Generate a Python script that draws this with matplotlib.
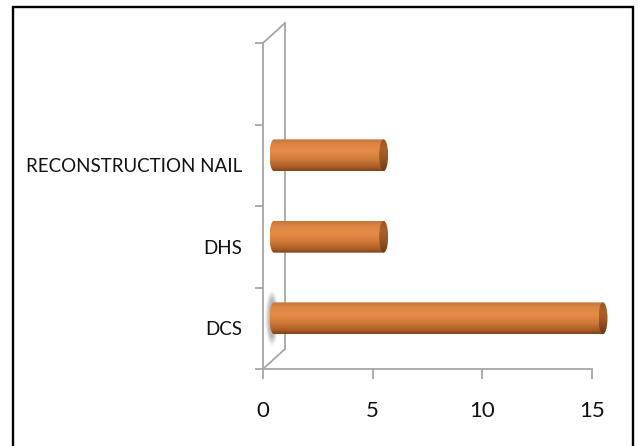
import numpy as np
import matplotlib
matplotlib.use("Agg")
import matplotlib.pyplot as plt
import matplotlib.transforms as mtransforms
from matplotlib.path import Path
from matplotlib.patches import PathPatch, Ellipse, Rectangle
from matplotlib.colors import LinearSegmentedColormap

# ---- data ----
categories = ["DCS", "DHS", "RECONSTRUCTION NAIL"]
values = [15, 5, 5]
x_ticks = [0, 5, 10, 15]
n_slots = 4  # value axis has one spare slot above the last category

label_font = ["Lato", "DejaVu Sans"]

DPI = 100
fig = plt.figure(figsize=(6.39, 4.46), dpi=DPI)
W, H = 639, 446
ax = fig.add_axes([263 / W, 77 / H, 329 / W, 326 / H])
ax.set_xlim(0, 15)
ax.set_ylim(-0.5, n_slots - 0.5)
ax.patch.set_alpha(0)

wall_col = "#a6a6a6"
for s in ["top", "right"]:
    ax.spines[s].set_visible(False)
for s in ["left", "bottom"]:
    ax.spines[s].set_color(wall_col)
    ax.spines[s].set_linewidth(1.3)

ax.set_xticks(x_ticks)
ax.set_xticklabels([str(t) for t in x_ticks])
ax.tick_params(axis="x", direction="out", length=7, width=1.3, color=wall_col,
               pad=16, labelsize=16)
ax.set_yticks(np.arange(-0.5, n_slots, 1.0), minor=True)
ax.set_yticks(range(len(categories)))
ax.set_yticklabels(categories)
ax.tick_params(axis="y", which="major", length=0, pad=15, labelsize=13.5)
ax.tick_params(axis="y", which="minor", direction="out", length=6, width=1.3,
               color=wall_col)
for lab in ax.get_xticklabels() + ax.get_yticklabels():
    lab.set_fontfamily(label_font)
    lab.set_color("#111111")
for lab in ax.get_yticklabels():
    lab.set_va("center_baseline")

# ---- back wall (depth lines) ----
fig.canvas.draw()
wall_dx, wall_dy = 22, 20
p_bot = ax.transData.transform((0, -0.5))
p_top = ax.transData.transform((0, n_slots - 0.5))
ident = mtransforms.IdentityTransform()
for p in (p_bot, p_top):
    ax.add_line(plt.Line2D([p[0], p[0] + wall_dx], [p[1], p[1] + wall_dy],
                           transform=ident, color=wall_col, lw=1.3,
                           clip_on=False))
ax.add_line(plt.Line2D([p_bot[0] + wall_dx] * 2,
                       [p_bot[1] + wall_dy, p_top[1] + wall_dy],
                       transform=ident, color=wall_col, lw=1.3, clip_on=False))

# ---- cylinders ----
depth = mtransforms.offset_copy(ax.transData, fig=fig, x=11, y=10, units="dots")
px_per_unit = (ax.transData.transform((1, 0)) - ax.transData.transform((0, 0)))[0]
cap_a = 4.5 / px_per_unit  # half-width of the elliptical ends
bar_h = 0.39

body_cmap = LinearSegmentedColormap.from_list(
    "body",
    [(0.0, "#7e4218"), (0.12, "#a95c26"), (0.35, "#cf7a37"),
     (0.62, "#e58d47"), (0.85, "#dc8642"), (1.0, "#c4753a")])
cap_cmap = LinearSegmentedColormap.from_list(
    "cap", [(0.0, "#6e3a14"), (0.4, "#9a5424"), (0.7, "#ad6129"), (1.0, "#985324")])
grad = np.linspace(0, 1, 128).reshape(-1, 1)

# soft grey shadow behind the longest bar's far end
i_max = int(np.argmax(values))
shadow_tr = mtransforms.offset_copy(ax.transData, fig=fig, x=9, y=10, units="dots")
for k, al in enumerate([0.14, 0.18, 0.22, 0.26]):
    sh = Ellipse((0.0, i_max), width=(0.6 - 0.1 * k), height=0.66 - 0.06 * k,
                 transform=shadow_tr, facecolor="#8a8a8a", edgecolor="none",
                 alpha=al, clip_on=False, zorder=1)
    ax.add_patch(sh)

t = np.linspace(np.pi / 2, 3 * np.pi / 2, 40)
for i, v in enumerate(values):
    y0, y1 = i - bar_h / 2, i + bar_h / 2
    verts = [(v, y1), (0, y1)]
    verts += [(cap_a * np.cos(tt), i + bar_h / 2 * np.sin(tt)) for tt in t]
    verts += [(0, y0), (v, y0), (v, y1)]
    codes = [Path.MOVETO] + [Path.LINETO] * (len(verts) - 2) + [Path.CLOSEPOLY]
    clip = PathPatch(Path(verts, codes), transform=depth, facecolor="none",
                     edgecolor="none")
    ax.add_patch(clip)
    im = ax.imshow(grad, cmap=body_cmap, origin="lower", aspect="auto",
                   extent=[-cap_a, v, y0, y1], transform=depth,
                   interpolation="bilinear", zorder=2)
    im.set_clip_box(fig.bbox)
    im.set_clip_path(clip)

    cap = Ellipse((v, i), width=2 * cap_a, height=bar_h, transform=depth,
                  facecolor="none", edgecolor="none")
    ax.add_patch(cap)
    im2 = ax.imshow(grad, cmap=cap_cmap, origin="lower", aspect="auto",
                    extent=[v - cap_a, v + cap_a, y0, y1], transform=depth,
                    interpolation="bilinear", zorder=3)
    im2.set_clip_box(fig.bbox)
    im2.set_clip_path(cap)

ax.set_xlim(0, 15)
ax.set_ylim(-0.5, n_slots - 0.5)

# ---- outer frame ----
fig.patches.append(Rectangle((13 / W, -0.05), (633 - 13) / W, (H - 7) / H + 0.05,
                             transform=fig.transFigure, fill=False,
                             edgecolor="black", linewidth=1.7))

fig.savefig("out.png", dpi=DPI)
